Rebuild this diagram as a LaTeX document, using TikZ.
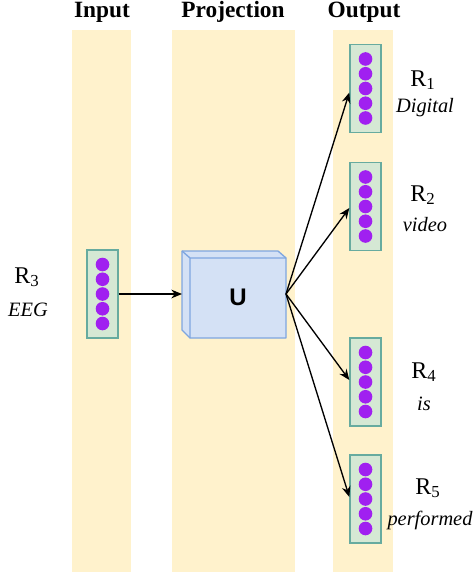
\documentclass[tikz,border=0pt]{standalone}
\usepackage{fontspec}
\setmainfont{Liberation Serif}
\newfontfamily\labelsans{Liberation Sans}
\usetikzlibrary{arrows.meta,calc}
\definecolor{lane}{HTML}{FFF2CC}
\definecolor{vecfill}{HTML}{D5E8D4}
\definecolor{vecline}{HTML}{67AB9F}
\definecolor{unit}{HTML}{A020F0}
\definecolor{cubefill}{HTML}{D4E1F5}
\definecolor{cubeline}{HTML}{7EA6E0}
\tikzset{
  lanebox/.style={fill=lane, draw=none},
  header/.style={font=\bfseries\fontsize{17.5}{19}\selectfont, anchor=center},
  vecbox/.style={draw=vecline, line width=1pt, fill=vecfill, minimum width=23.25pt, minimum height=66pt, inner sep=0pt},
  dotunit/.style={fill=unit, draw=none},
  rname/.style={font=\fontsize{18}{20}\selectfont, anchor=center},
  word/.style={font=\itshape\fontsize{15.3}{17}\selectfont, anchor=center},
  link/.style={draw=black, line width=1pt, -{Stealth[length=8pt, width=6.5pt]}},
}
% draws a column vector: box with five units
\newcommand{\unitvec}[3]{%
  \node[vecbox] (#1) at (#2,#3) {};
  \foreach \k in {-2,...,2}
    \fill[dotunit] ($(#1.center)+(0,\k*14.75)$) circle[radius=5.1pt];
}
\begin{document}
\begin{tikzpicture}[x=0.75pt, y=-0.75pt]
\useasboundingbox (0,0) rectangle (475,577);
% lanes
\fill[lanebox] (72,30) rectangle (131,572);
\fill[lanebox] (172,30) rectangle (295,572);
\fill[lanebox] (333,30) rectangle (393,572);
% headers
\node[header] (hin) at (102,12) {Input};
\node[header] (hproj) at (233,12) {Projection};
\node[header] (hout) at (364,12) {Output};
% input vector
\unitvec{r3}{102.5}{294}
% output vectors
\unitvec{r1}{365.5}{88.5}
\unitvec{r2}{365.5}{206.5}
\unitvec{r4}{365.5}{382}
\unitvec{r5}{365.5}{499}
% projection cube
\coordinate (cbl) at (182,251);
\coordinate (cbr) at (278,251);
\coordinate (cfl) at (190,258);
\coordinate (cfr) at (286,258);
\coordinate (cfbl) at (190,338);
\coordinate (cfbr) at (286,338);
\coordinate (cbbl) at (182,330);
\filldraw[fill=cubefill, draw=cubeline, line width=1pt, line join=round]
  (cbl) -- (cbr) -- (cfr) -- (cfbr) -- (cfbl) -- (cbbl) -- cycle;
\draw[draw=cubeline, line width=1pt, line join=round] (cbl) -- (cfl) -- (cfr) (cfl) -- (cfbl);
\node[font=\labelsans\bfseries\fontsize{18}{20}\selectfont] (u) at (238,297) {U};
\coordinate (cin) at (182,294);
\coordinate (cout) at (286,294);
% connectors
\draw[link] (r3.east) -- (cin);
\draw[link] (cout) -- ($(r1.west)+(0,4)$);
\draw[link] (cout) -- ($(r2.west)+(0,1.5)$);
\draw[link] (cout) -- ($(r4.west)+(0,-2)$);
\draw[link] (cout) -- ($(r5.west)+(0,-2)$);
% labels
\node[rname] (l3) at (27,277) {R\textsubscript{3}};
\node[word] (w3) at (28,310) {EEG};
\node[rname] (l1) at (423,80) {R\textsubscript{1}};
\node[word] (w1) at (425,108) {Digital};
\node[rname] (l2) at (423,195) {R\textsubscript{2}};
\node[word] (w2) at (425,225) {video};
\node[rname] (l4) at (424,372) {R\textsubscript{4}};
\node[word] (w4) at (424,404) {is};
\node[rname] (l5) at (428,488) {R\textsubscript{5}};
\node[word] (w5) at (430,520) {performed};
\end{tikzpicture}
\end{document}
